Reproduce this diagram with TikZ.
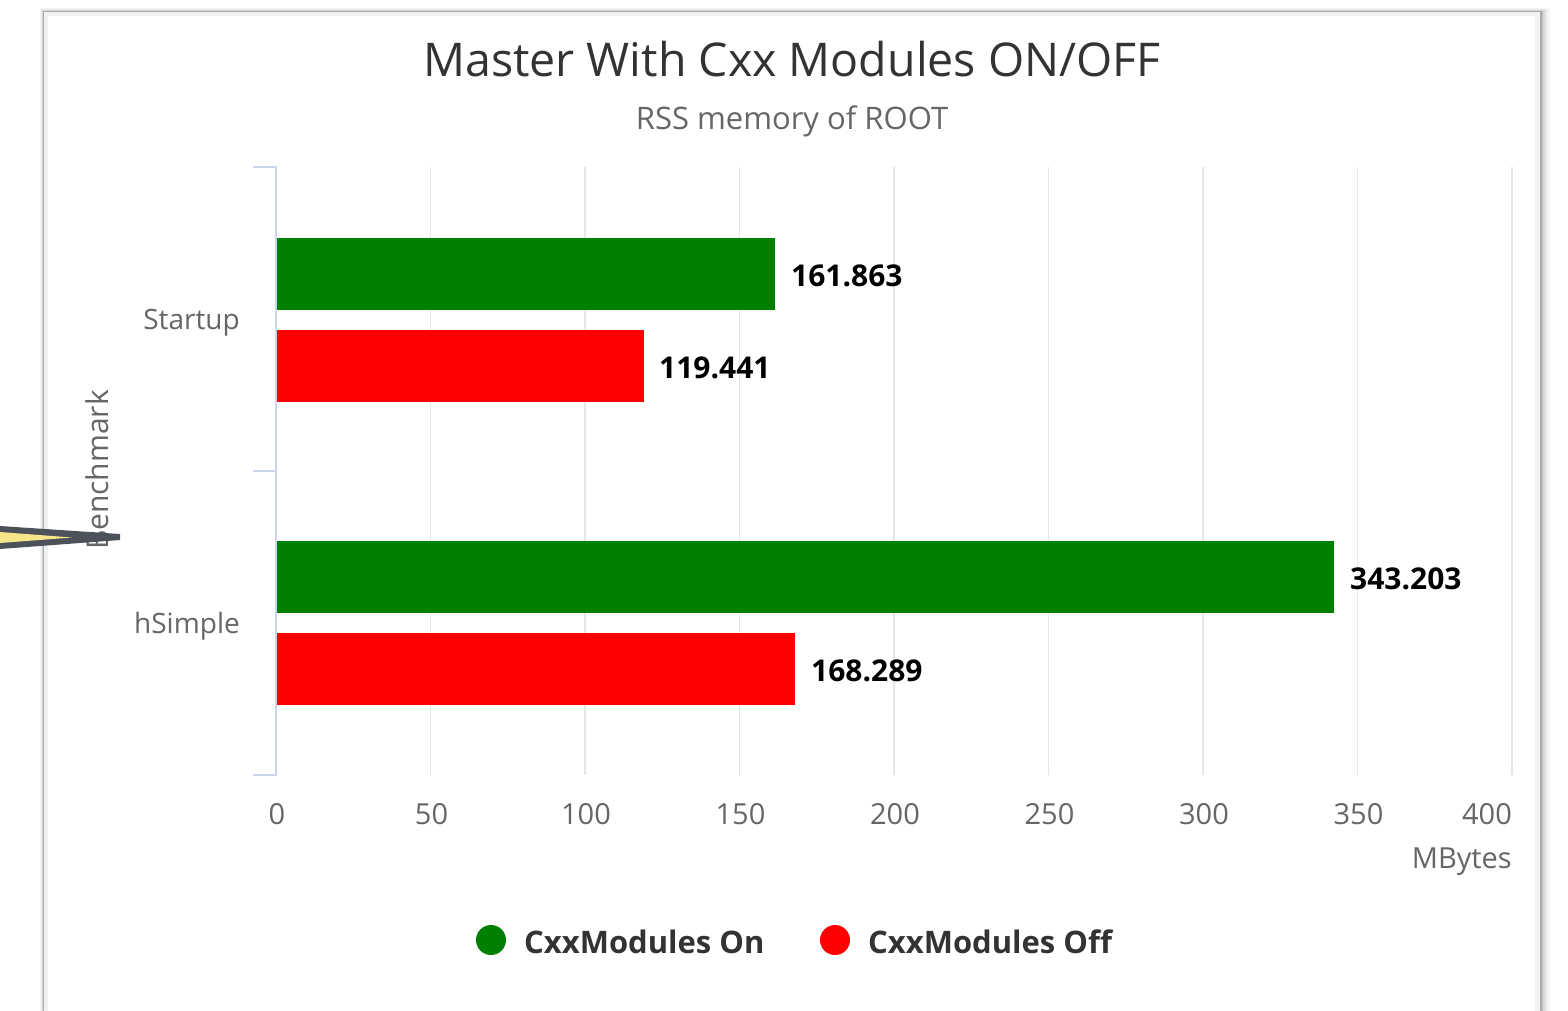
\documentclass[tikz,border=0pt]{standalone}
\usepackage{fontspec}
\setmainfont{Open Sans}
\definecolor{titlec}{HTML}{333333}
\definecolor{subc}{HTML}{666666}
\definecolor{axisc}{HTML}{CCD6EB}
\definecolor{gridc}{HTML}{E6E6E6}
\definecolor{barg}{HTML}{008000}
\definecolor{barr}{HTML}{FF0000}
\definecolor{cardb}{HTML}{F0F3F3}
\definecolor{pencil}{HTML}{4D525A}
\definecolor{pencily}{HTML}{F7E58A}
\tikzset{
  vlabel/.style={anchor=west, font=\fontsize{30}{34}\selectfont\bfseries, text=black, inner sep=0pt},
  ticklab/.style={font=\fontsize{29}{33}\selectfont, text=subc, inner sep=0pt},
  catlab/.style={anchor=east, font=\fontsize{28}{32}\selectfont, text=subc, inner sep=0pt},
  legtext/.style={anchor=west, font=\fontsize{31}{36}\selectfont\bfseries, text=titlec, inner sep=0pt},
  gridline/.style={draw=gridc, line width=1.6pt},
  axisline/.style={draw=axisc, line width=2pt},
}
\begin{document}
\begin{tikzpicture}[x=1pt,y=-1pt]
\useasboundingbox (0,0) rectangle (1568,1010);
\fill[white] (0,0) rectangle (1568,1010);
% card shadow
\foreach \d/\o in {10/0.04,7/0.05,5/0.07,3/0.09,1.5/0.12}{
  \fill[black,opacity=\o] (44-\d*0.4,12-\d*0.4) rectangle (1540+\d,1020);
}
\fill[cardb] (44,12) rectangle (1540,1020);
\fill[white] (48,16) rectangle (1535,1020);
% title
\node[font=\fontsize{46.5}{54}\selectfont, text=titlec] (title) at (792,59) {Master With Cxx Modules ON/OFF};
\node[font=\fontsize{31}{36}\selectfont, text=subc] (sub) at (792,121) {RSS memory of ROOT};
% grid
\foreach \v in {50,100,...,400}{
  \draw[gridline] (276+\v*3.09,167) -- (276+\v*3.09,775);
}
\foreach \v in {0,50,...,350}{
  \node[ticklab] (t\v) at (277+\v*3.09,814) {\v};
}
\node[ticklab,anchor=east] (t400) at (1512,814) {400};
\node[ticklab,anchor=east] (unit) at (1512,862) {MBytes};
% bars
\fill[barg] (277,238) rectangle (276+161.863*3.083,310);
\fill[barr] (277,330) rectangle (276+119.441*3.083,402);
\fill[barg] (277,541) rectangle (276+343.203*3.083,613);
\fill[barr] (277,633) rectangle (276+168.289*3.083,705);
\node[vlabel] (l1) at (791,276) {161.863};
\node[vlabel] (l2) at (659,368) {119.441};
\node[vlabel] (l3) at (1350,579) {343.203};
\node[vlabel] (l4) at (811,671) {168.289};
% axis
\draw[axisline] (253,167) -- (276,167) -- (276,775) -- (253,775);
\draw[axisline] (253,471) -- (276,471);
\node[catlab] (c1) at (240,323) {Startup};
\node[catlab] (c2) at (240,626) {hSimple};
\node[font=\fontsize{30}{34}\selectfont, text=subc, rotate=90, inner sep=0pt] (ylab) at (97,470) {Benchmark};
% pencil pointer
\fill[pencil] (0,526) -- (120,534) -- (120,540) -- (0,549) -- cycle;
\fill[pencily] (0,532) -- (72,537.5) -- (0,543) -- cycle;
% legend
\fill[barg] (491,940) circle (15);
\node[legtext] (lg1) at (524,942) {CxxModules On};
\fill[barr] (835,940) circle (15);
\node[legtext] (lg2) at (868,942) {CxxModules Off};
\end{tikzpicture}
\end{document}
